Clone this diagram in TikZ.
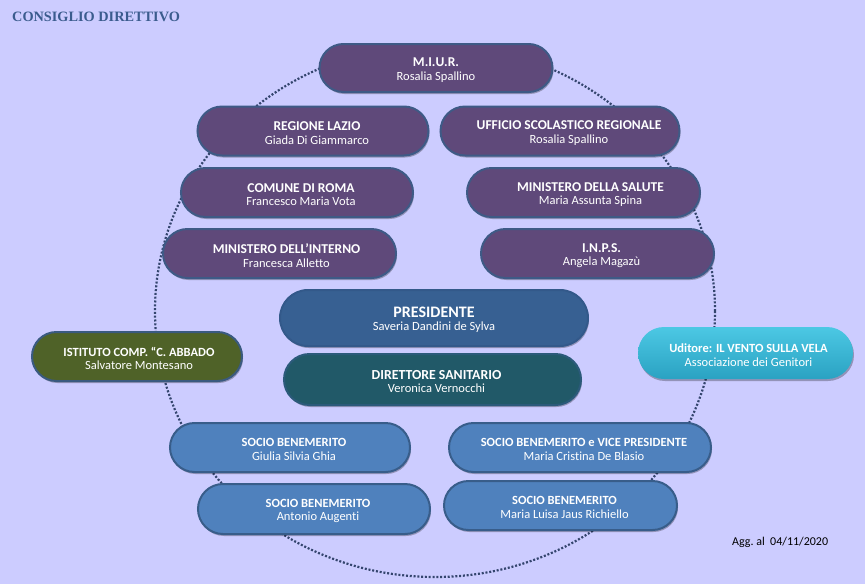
\documentclass[tikz,border=0pt]{standalone}
\usepackage{fontspec}
\setmainfont{Carlito}[Ligatures=NoCommon]
\newfontfamily\titlefont{Liberation Serif}
\usetikzlibrary{shapes.misc,shadows,calc}
\definecolor{bgc}{HTML}{CCCCFF}
\definecolor{titlec}{HTML}{3B5C8E}
\definecolor{purplef}{HTML}{5F497A}
\definecolor{purpleb}{HTML}{3E5A86}
\definecolor{presf}{HTML}{376092}
\definecolor{presb}{HTML}{33598A}
\definecolor{dirf}{HTML}{215968}
\definecolor{dirb}{HTML}{2B5A7A}
\definecolor{istf}{HTML}{4F6228}
\definecolor{istb}{HTML}{3A5A80}
\definecolor{udt}{HTML}{4CC8E4}
\definecolor{udb}{HTML}{2AA2C2}
\definecolor{sociof}{HTML}{4F81BD}
\definecolor{sociob}{HTML}{385D8A}
\definecolor{dotc}{HTML}{34456E}
\tikzset{
  pill/.style={rounded rectangle, line width=2pt, inner sep=0pt,
    drop shadow={shadow xshift=1pt, shadow yshift=-2pt, opacity=.28, fill=black}},
  purplebox/.style={pill, fill=purplef, draw=purpleb},
  presbox/.style={pill, fill=presf, draw=presb},
  dirbox/.style={pill, fill=dirf, draw=dirb},
  istbox/.style={pill, fill=istf, draw=istb},
  udbox/.style={pill, top color=udt, bottom color=udb, draw=none},
  sociobox/.style={pill, fill=sociof, draw=sociob},
  boxtext/.style={text=white, align=center, inner sep=0pt,
    font=\fontsize{12.5}{13.5}\selectfont},
  ring/.style={draw=dotc, line width=2.2pt, dash pattern=on 2pt off 1.8pt},
}
\newcommand\orgbox[8]{%
  \node[#2, minimum width=#5pt, minimum height=#6pt] (#1) at (#3,#4) {};
  \node[boxtext] (#1t) at ([xshift=#7pt, yshift=-2pt]#1.center) {#8};
}
\newcommand\tl[1]{{\bfseries\fontsize{13.5}{13.5}\selectfont #1}}
\newcommand\tls[1]{{\bfseries\fontsize{12.5}{12.5}\selectfont #1}}
\begin{document}
\begin{tikzpicture}[x=1pt,y=-1pt]
\fill[bgc] (0,0) rectangle (865,584);
\useasboundingbox (0,0) rectangle (865,584);
\node[anchor=base west, inner sep=0pt, text=titlec,
  font=\titlefont\bfseries\fontsize{14.3}{14.3}\selectfont] (title) at (12,21.7) {CONSIGLIO DIRETTIVO};
\draw[ring] (435,311) ellipse [x radius=280pt, y radius=266pt];
\orgbox{miur}{purplebox}{436}{68}{233}{48}{0}{\tl{M.I.U.R.}\\Rosalia Spallino}
\orgbox{lazio}{purplebox}{313}{131}{231}{49}{4}{\tl{REGIONE LAZIO}\\Giada Di Giammarco}
\orgbox{usr}{purplebox}{560}{131}{239}{49}{9}{\tl{UFFICIO SCOLASTICO REGIONALE}\\Rosalia Spallino}
\orgbox{roma}{purplebox}{297}{192.5}{232}{49}{4}{\tl{COMUNE DI ROMA}\\Francesco Maria Vota}
\orgbox{salute}{purplebox}{583.5}{192.5}{233}{49}{7}{\tl{MINISTERO DELLA SALUTE}\\Maria Assunta Spina}
\orgbox{interno}{purplebox}{279.5}{253.5}{233}{49}{7}{\tl{MINISTERO DELL’INTERNO}\\Francesca Alletto}
\orgbox{inps}{purplebox}{597.5}{253.5}{233}{49}{4}{\tl{I.N.P.S.}\\Angela Magazù}
\orgbox{pres}{presbox}{434}{318}{308}{56}{0}{{\bfseries\fontsize{16}{16}\selectfont PRESIDENTE}\\Saveria Dandini de Sylva}
\orgbox{dir}{dirbox}{432.5}{379.5}{297}{51}{4}{{\bfseries\fontsize{13.8}{13.8}\selectfont DIRETTORE SANITARIO}\\Veronica Vernocchi}
\orgbox{ist}{istbox}{137}{356.5}{210}{49}{2}{\tls{ISTITUTO COMP. “C. ABBADO}\\Salvatore Montesano}
\orgbox{udit}{udbox}{745.5}{353}{215}{52}{3}{\tls{Uditore: IL VENTO SULLA VELA}\\Associazione dei Genitori}
\orgbox{ghia}{sociobox}{290}{447.5}{240}{49}{4}{\tls{SOCIO BENEMERITO}\\Giulia Silvia Ghia}
\orgbox{augenti}{sociobox}{314}{509}{232}{50}{4}{\tls{SOCIO BENEMERITO}\\Antonio Augenti}
\orgbox{vice}{sociobox}{580}{447.5}{262}{49}{4}{\tls{SOCIO BENEMERITO e VICE PRESIDENTE}\\Maria Cristina De Blasio}
\orgbox{rich}{sociobox}{560.5}{505.5}{233}{49}{4}{\tls{SOCIO BENEMERITO}\\Maria Luisa Jaus Richiello}
\node[anchor=base west, inner sep=0pt, font=\fontsize{12}{12}\selectfont] (agg) at (732,545) {Agg.\ al\ \ 04/11/2020};
\end{tikzpicture}
\end{document}
